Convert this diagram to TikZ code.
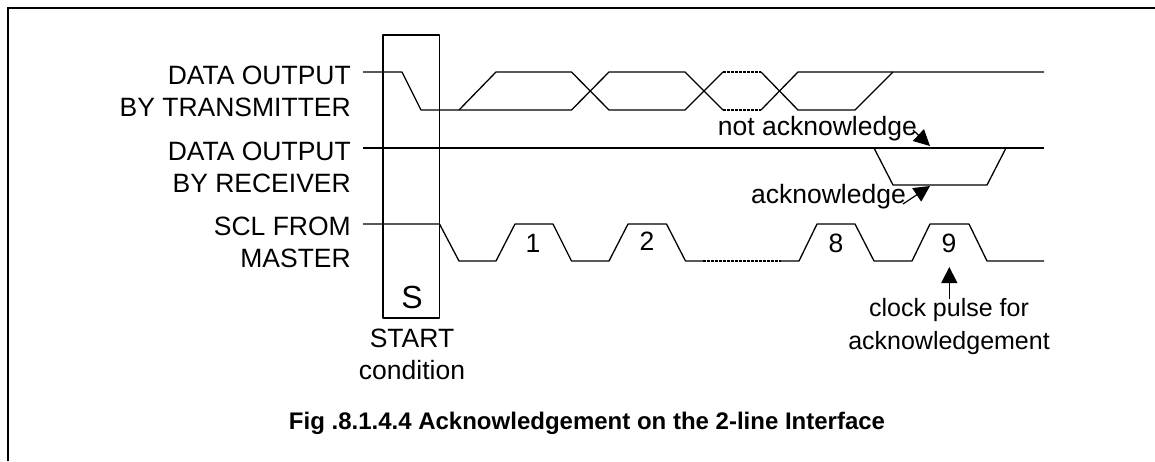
\documentclass[tikz,border=0pt]{standalone}
\usepackage{tikz}
\usepackage{fontspec}
\setmainfont{Liberation Sans}
\usetikzlibrary{arrows.meta}
\tikzset{
    lbl/.style={font=\fontsize{26.5}{32}\selectfont, inner sep=0pt, align=center},
    wave/.style={line width=1.3pt, line join=round},
    dots/.style={line width=1.8pt, dash pattern=on 2.5pt off 1.5pt},
    ack/.style={line width=1.2pt, -{Triangle[length=16pt,width=16pt]}}
}
\begin{document}
\begin{tikzpicture}[x=1pt,y=-1pt]
    \useasboundingbox (0,0) rectangle (1155,461);
    \draw[line width=2pt] (8,461) -- (8,8) -- (1155,8);

    \draw[wave] (383,318) rectangle (439.5,35);
    \node[lbl, font=\fontsize{32}{38}\selectfont] (s) at (412,297) {S};
    \node[lbl] (start) at (412,354) {START\\condition};

    \node[lbl, align=right, left] (tx) at (351,91) {DATA OUTPUT\\BY TRANSMITTER};
    \node[lbl, align=right, left] (rx) at (351,167) {DATA OUTPUT\\BY RECEIVER};
    \node[lbl, align=right, left] (scl) at (351,242) {SCL FROM\\MASTER};

    \draw[wave] (363,72) -- (402,72) -- (421,110) -- (571.5,110) -- (609,72) -- (685,72) -- (723,110);
    \draw[wave] (459,110) -- (496,72) -- (571.5,72) -- (609,110) -- (685,110) -- (723,72);
    \draw[dots] (723,72) -- (761,72);
    \draw[dots] (723,110) -- (761,110);
    \draw[wave] (761,72) -- (798,110) -- (855,110) -- (893,72);
    \draw[wave] (761,110) -- (798,72) -- (1044,72);

    \draw[wave] (363,148) -- (1044,148);
    \draw[wave] (874,148) -- (893,185) -- (987,185) -- (1006,148);

    \draw[wave] (363,224) -- (439.5,224) -- (459,261) -- (496,261) -- (515,224) -- (553,224) -- (571.5,261) -- (609,261) -- (628,224) -- (666.5,224) -- (685.5,261) -- (703,261);
    \draw[dots] (703,261) -- (781,261);
    \draw[wave] (781,261) -- (799,261) -- (817,224) -- (855,224) -- (874,261) -- (912,261) -- (930,224) -- (969,224) -- (987,261) -- (1044,261);

    \node[lbl] (one) at (533,243) {1};
    \node[lbl] (two) at (647,241) {2};
    \node[lbl] (eight) at (836,243) {8};
    \node[lbl] (nine) at (949,243) {9};

    \node[lbl, left] (notack) at (917,129) {not acknowledge};
    \node[lbl, left] (acklbl) at (906,197) {acknowledge};
    \node[lbl, font=\fontsize{25}{33}\selectfont] (clock) at (949,327) {clock pulse for\\acknowledgement};
    \node[lbl, font=\bfseries\fontsize{24}{28}\selectfont] (cap) at (587,423) {Fig .8.1.4.4 Acknowledgement on the 2-line Interface};

    \coordinate (notacktip) at (930,146);
    \coordinate (notackend) at (913,130);
    \coordinate (acktip) at (930,186);
    \coordinate (ackend) at (903,204);
    \coordinate (clocktip) at (949.3,267);
    \coordinate (clockend) at (949.3,299);
    \draw[ack] (notackend) -- (notacktip);
    \draw[ack] (ackend) -- (acktip);
    \draw[ack] (clockend) -- (clocktip);
\end{tikzpicture}
\end{document}
